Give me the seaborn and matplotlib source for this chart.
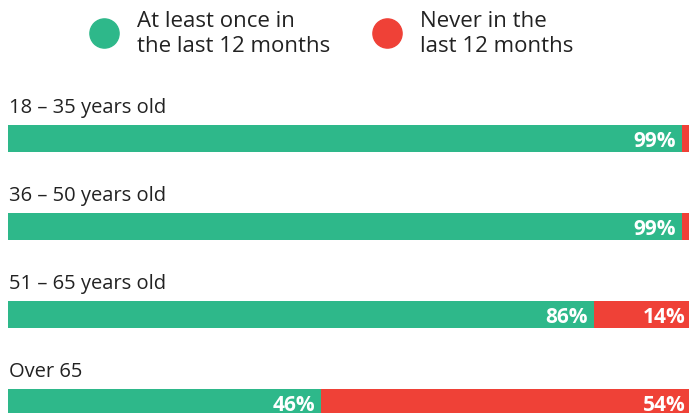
import matplotlib
matplotlib.use("Agg")
import matplotlib.pyplot as plt
from matplotlib.lines import Line2D
import seaborn as sns
import pandas as pd

# Share of respondents by age group
age_groups = ["18 – 35 years old", "36 – 50 years old", "51 – 65 years old", "Over 65"]
at_least_once = [99, 99, 86, 46]
never = [1, 1, 14, 54]
series_names = ["At least once in\nthe last 12 months", "Never in the\nlast 12 months"]

GREEN = "#2EB88A"
RED = "#EF4137"
TEXT = "#222222"

sns.set_theme(style="white")
plt.rcParams["font.family"] = ["Open Sans", "DejaVu Sans"]

df = pd.DataFrame({"group": age_groups, "once": at_least_once, "never": never})
df["total"] = df["once"] + df["never"]

W, H = 689, 414
fig = plt.figure(figsize=(W / 100, H / 100), dpi=100)
ax = fig.add_axes([8 / W, 0, 1 - 8 / W, 1])

bar_h = 27 / 88
# stacked: full-length red underneath, green share on top
sns.barplot(data=df, x="total", y="group", orient="h", color=RED,
            width=bar_h, saturation=1, linewidth=0, edgecolor="none", ax=ax)
sns.barplot(data=df, x="once", y="group", orient="h", color=GREEN,
            width=bar_h, saturation=1, linewidth=0, edgecolor="none", ax=ax)

ax.set_xlim(0, 100)
top = -139.5 / 88
ax.set_ylim(top + H / 88, top)
ax.set_axis_off()

pad = 6 * 100 / (W - 8)
for i, (g, a, n) in enumerate(zip(age_groups, at_least_once, never)):
    ax.text(0.1, i - 26.5 / 88, g, fontsize=14.5, color=TEXT, ha="left", va="baseline")
    ax.text(a - pad, i + 0.02, f"{a}%", color="white", fontsize=15, fontweight="bold",
            ha="right", va="center")
    if n >= 5:
        ax.text(a + n - pad * 0.5, i + 0.02, f"{n}%", color="white", fontsize=15,
                fontweight="bold", ha="right", va="center")

# legend entries placed one by one: circle marker followed by a two-line label
fs = 16
fs_px = fs * 100 / 72
for color, name, cx in zip((GREEN, RED), series_names, (104, 387)):
    handle = Line2D([], [], marker="o", linestyle="none", markersize=21,
                    markerfacecolor=color, markeredgecolor=color)
    leg = fig.legend([handle], [name], loc="center left",
                     bbox_to_anchor=((cx - 0.5 * fs_px) / W, 1 - 34 / H),
                     frameon=False, fontsize=fs, handlelength=1.0,
                     handletextpad=(33 - 0.5 * fs_px) / fs_px,
                     borderpad=0, borderaxespad=0)
    for t in leg.get_texts():
        t.set_color(TEXT)
        t.set_linespacing(1.25)

fig.savefig("out.png", dpi=100)
